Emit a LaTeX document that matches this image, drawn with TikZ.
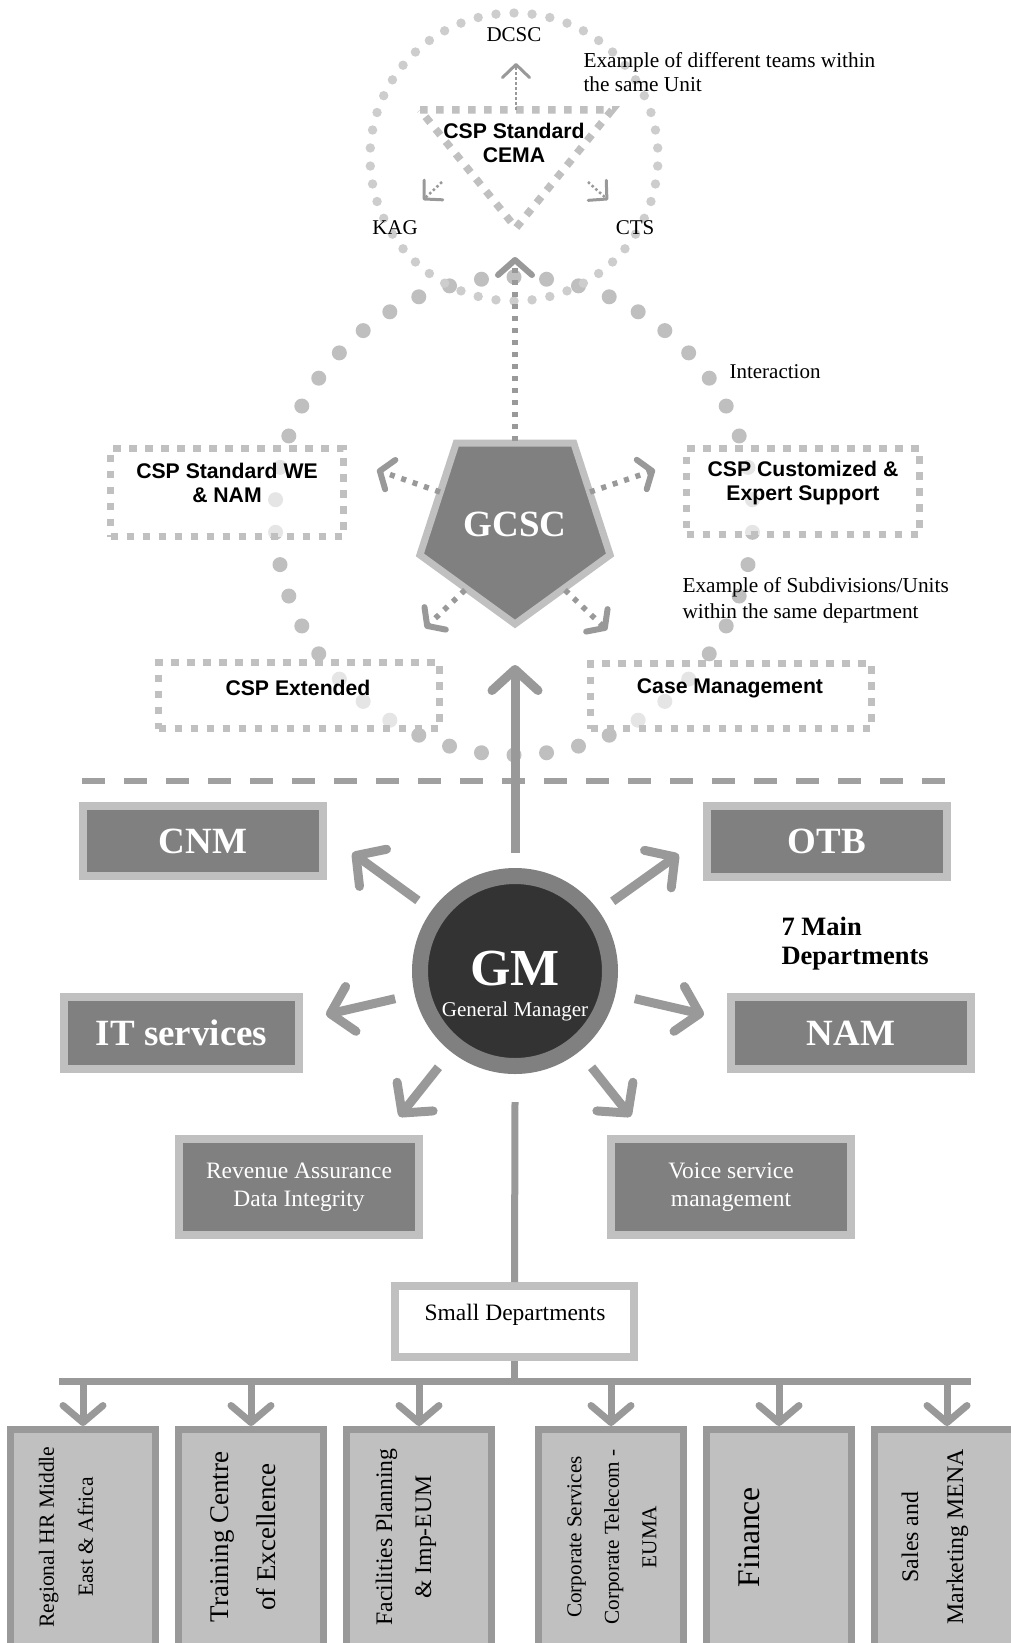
\documentclass[tikz,border=0pt]{standalone}
\usepackage{fontspec}
\setmainfont{Liberation Serif}
\setsansfont{Liberation Sans}
\usetikzlibrary{arrows.meta,shapes.geometric,calc}

\definecolor{boxgray}{HTML}{808080}
\definecolor{rimgray}{HTML}{C0C0C0}
\definecolor{arrowgray}{HTML}{999999}
\definecolor{gmdark}{HTML}{333333}
\definecolor{dotbig}{HTML}{BFBFBF}
\definecolor{dotsmall}{HTML}{CDCDCD}
\definecolor{seplinegray}{HTML}{A0A0A0}

\newcommand\setfs[2]{\fontsize{#1}{#2}\selectfont}

\tikzset{
  maindept/.style={draw=rimgray, line width=8pt, fill=boxgray, text=white,
    inner sep=0pt, font=\bfseries\setfs{37}{40}},
  subdept/.style={draw=rimgray, line width=8pt, fill=boxgray, text=white,
    align=center, inner sep=0pt, font=\setfs{23.5}{28}},
  unitbox/.style={draw=rimgray, line width=7.5pt, dash pattern=on 7.5pt off 8.5pt,
    fill=white, fill opacity=0.6, inner sep=0pt},
  unitlabel/.style={font=\sffamily\bfseries\setfs{21.2}{24}, align=center, text=black},
  note/.style={font=\setfs{21.3}{26}, align=left, anchor=west, text=black},
  tag/.style={font=\setfs{21}{24}, text=black},
  smallbox/.style={draw=arrowgray, line width=7pt, fill=rimgray, inner sep=0pt,
    minimum width=145pt, minimum height=271pt},
  vertlabel/.style={rotate=90, align=center, text=black},
  gmarrow/.style={draw=arrowgray, line width=9pt,
    -{Straight Barb[length=21pt,width=46pt,round]}},
  droparrow/.style={draw=arrowgray, line width=7pt,
    -{Straight Barb[length=17pt,width=40pt,round]}},
  stem/.style={draw=arrowgray, line width=7pt},
  unitarrow/.style={draw=arrowgray, line width=5.5pt, dash pattern=on 5pt off 7pt,
    -{Straight Barb[length=11pt,width=31pt,line width=6pt,round]}},
  teamarrow/.style={draw=arrowgray, line width=2.5pt, dash pattern=on 2.5pt off 2.5pt,
    -{Straight Barb[length=13pt,width=27pt,line width=3pt,round]}},
}

\begin{document}
\begin{tikzpicture}[x=1pt,y=-1pt]
\clip (0,0) rectangle (1011,1643);
\fill[white] (0,0) rectangle (1011,1643);

% ---------- interaction loop and team circle (dotted rings) ----------
\begin{scope}[shift={(514,516)}]
  \foreach \k [evaluate=\k as \a using 270+\k*7.826087] in {0,...,45}
    \fill[dotbig] (\a:239) circle (7.5pt);
\end{scope}
\begin{scope}[shift={(514,157)}]
  \foreach \k [evaluate=\k as \a using 270+\k*7.2] in {0,...,49}
    \fill[dotsmall] (\a:144) circle (4.7pt);
\end{scope}

% ---------- teams of one unit ----------
\draw[rimgray, line width=7.5pt, dash pattern=on 7.5pt off 8.5pt]
  (420,110) -- (612,110) -- (516,228) -- cycle;
\node[unitlabel] (cema) at (514,143) {CSP Standard\\CEMA};
\coordinate (cemaTop) at (516,110);
\coordinate (cemaLeft) at (442,182);
\coordinate (cemaRight) at (588,182);
\coordinate (dcscTip) at (516,63);
\coordinate (kagTip) at (423,200);
\coordinate (ctsTip) at (608,200);
\draw[teamarrow] (cemaTop) -- (dcscTip);
\draw[teamarrow] (cemaLeft) -- (kagTip);
\draw[teamarrow] (cemaRight) -- (ctsTip);
\node[tag] (dcsc) at (514,35) {DCSC};
\node[tag] (kag) at (395,228) {KAG};
\node[tag] (cts) at (635,228) {CTS};
\node[note, font=\setfs{21.3}{24.5}] (teamnote) at (580,72) {Example of different teams within\\the same Unit};
\node[note, font=\setfs{21}{26}] (interaction) at (726,372) {Interaction};

% ---------- units of the GCSC department ----------
\node[unitbox, minimum width=233pt, minimum height=88pt] (we) at (227,492.5) {};
\node[unitbox, minimum width=281pt, minimum height=66pt] (ext) at (299,695.5) {};
\node[unitbox, minimum width=233pt, minimum height=86pt] (cust) at (803,491.5) {};
\node[unitbox, minimum width=281pt, minimum height=65pt] (case) at (731,696) {};
\node[unitlabel] (welabel) at (227,483) {CSP Standard WE\\\& NAM};
\node[unitlabel] (extlabel) at (298,688) {CSP Extended};
\node[unitlabel] (custlabel) at (803,483) {CSP Customized \&\\Expert Support};
\node[unitlabel] (caselabel) at (730,688) {Case Management};
\node[note] (unitnote) at (679,600) {Example of Subdivisions/Units\\within the same department};

\node[regular polygon, regular polygon sides=5, shape border rotate=180,
  draw=rimgray, line width=7pt, fill=boxgray, minimum size=200pt, inner sep=0pt,
  text=white, font=\bfseries\setfs{37}{40}] (gcsc) at (515,524) {GCSC};

\draw[unitarrow, line width=6pt, -{Straight Barb[length=15pt,width=34pt,line width=6pt,round]}]
  ($(gcsc.center)+(0,-83)$) -- ($(gcsc.center)+(0,-267)$);
\draw[unitarrow] ($(gcsc.center)+(-75,-32)$) -- ($(gcsc.center)+(-138,-54)$);
\draw[unitarrow] ($(gcsc.center)+(75,-32)$) -- ($(gcsc.center)+(140,-54)$);
\draw[unitarrow] ($(gcsc.center)+(-50,66)$) -- ($(gcsc.center)+(-90,104)$);
\draw[unitarrow] ($(gcsc.center)+(50,66)$) -- ($(gcsc.center)+(92,106)$);

% ---------- separator ----------
\coordinate (sepL) at (82,781);
\coordinate (sepR) at (948,781);
\draw[seplinegray, line width=6.5pt, dash pattern=on 23pt off 19pt] (sepL) -- (sepR);

% ---------- general manager and main departments ----------
\node[circle, draw=boxgray, line width=16pt, fill=gmdark, minimum size=190pt,
  inner sep=0pt] (gm) at (515,971) {};
\node[text=white, font=\bfseries\setfs{52}{52}] (gmtitle) at (515,969) {GM};
\node[text=white, font=\setfs{21}{24}] (gmsub) at (515,1011) {General Manager};

\node[maindept, minimum width=240pt, minimum height=70pt] (cnm) at (203,841) {CNM};
\node[maindept, minimum width=235pt, minimum height=72pt] (it) at (181.5,1033) {IT services};
\node[maindept, minimum width=240pt, minimum height=71pt] (otb) at (827,841.5) {OTB};
\node[maindept, minimum width=240pt, minimum height=72pt] (nam) at (851,1033) {NAM};
\node[subdept, minimum width=240pt, minimum height=96pt] (rev) at (299,1187) {Revenue Assurance\\Data Integrity};
\node[subdept, minimum width=240pt, minimum height=96pt] (voice) at (731,1187) {Voice service\\management};
\node[font=\bfseries\setfs{26.5}{29}, align=left, anchor=west] (seven) at (778,944) {7 Main\\Departments};

\draw[gmarrow] ($(gm.center)+(0,-118)$) -- ($(gm.center)+(0,-306)$);
\draw[gmarrow] ($(gm.center)+(216:120)$) -- ($(gm.center)+(216:201)$);
\draw[gmarrow] ($(gm.center)+(-35.5:120)$) -- ($(gm.center)+(-35.5:201)$);
\draw[gmarrow] ($(gm.center)+(167:123)$) -- ($(gm.center)+(167:194)$);
\draw[gmarrow] ($(gm.center)+(13:123)$) -- ($(gm.center)+(13:194)$);
\draw[gmarrow] ($(gm.center)+(128.5:123)$) -- ($(gm.center)+(128.5:186)$);
\draw[gmarrow] ($(gm.center)+(51.5:123)$) -- ($(gm.center)+(51.5:186)$);

% ---------- small departments ----------
\node[draw=rimgray, line width=8pt, fill=white, minimum width=239pt,
  minimum height=71pt, inner sep=0pt] (small) at (514.5,1321.5) {};
\node[font=\setfs{23.5}{28}] (smalllabel) at (515,1315) {Small Departments};
\draw[stem] ($(gm.center)+(0,131)$) -- (small.north);

\coordinate (busL) at (59,1381);
\coordinate (busR) at (971,1381);
\draw[stem] (small.south) -- (small.south |- busL);
\draw[stem] (busL) -- (busR);

\node[smallbox] (hr) at (83,1565) {};
\node[smallbox] (tce) at (251,1565) {};
\node[smallbox] (fac) at (419,1565) {};
\node[smallbox] (corp) at (611,1565) {};
\node[smallbox] (fin) at (779,1565) {};
\node[smallbox] (sales) at (947,1565) {};
\foreach \b in {hr,tce,fac,corp,fin,sales}
  \draw[droparrow] (\b.north |- busL) -- (\b.north);

\node[vertlabel, font=\setfs{21.6}{39}] (hrlabel) at (66,1537) {Regional HR Middle\\East \& Africa};
\node[vertlabel, font=\setfs{27}{47}] (tcelabel) at (243,1537) {Training Centre\\of Excellence};
\node[vertlabel, font=\setfs{23.7}{39}] (faclabel) at (406,1537) {Facilities Planning\\\& Imp-EUM};
\node[vertlabel, font=\setfs{21.2}{37.5}] (corplabel) at (612,1537) {Corporate Services\\Corporate Telecom -\\EUMA};
\node[vertlabel, font=\setfs{31.6}{36}] (finlabel) at (749,1537) {Finance};
\node[vertlabel, font=\setfs{23.8}{45}] (saleslabel) at (935,1537) {Sales and\\Marketing MENA};
\end{tikzpicture}
\end{document}
